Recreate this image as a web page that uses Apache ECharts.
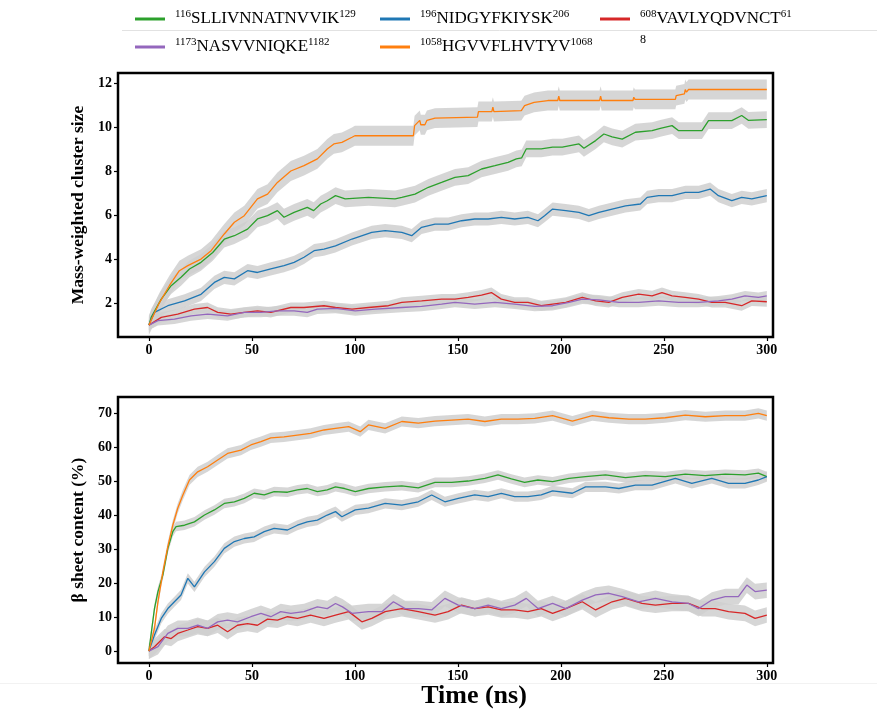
<!DOCTYPE html>
<html><head><meta charset="utf-8">
<script src="https://cdn.jsdelivr.net/npm/echarts@6/dist/echarts.min.js"></script>
<style>html,body{margin:0;padding:0;background:#fff}#c{width:877px;height:711px}</style>
</head><body><div id="c"></div><script>
// ---------- labels ----------
const seriesNames = ['116SLLIVNNATNVVIK129','196NIDGYFKIYSK206','608VAVLYQDVNCT618','1173NASVVNIQKE1182','1058HGVVFLHVTYV1068'];
const supPre = ['116','196','608','1173','1058'];
const mainTxt = ['SLLIVNNATNVVIK','NIDGYFKIYSK','VAVLYQDVNCT','NASVVNIQKE','HGVVFLHVTYV'];
const supPost = ['129','206','61','1182','1068'];
const colors = ['#2ca02c','#1f77b4','#d62728','#9467bd','#ff7f0e'];
const xTicks = [0,50,100,150,200,250,300];
const topYTicks = [2,4,6,8,10,12];
const botYTicks = [0,10,20,30,40,50,60,70];

// ---------- top: mass-weighted cluster size ----------
const topGreen = [[0,1.0],[1.1,1.35],[6,2.18],[10.8,2.79],[15.6,3.17],[19.7,3.55],[25.3,3.85],[31,4.3],[36.6,4.9],[41.5,5.06],[47.9,5.36],[52.7,5.82],[57.6,5.97],[62.4,6.2],[65.6,5.9],[70.5,6.12],[76.9,6.35],[80,6.2],[83.4,6.5],[86.6,6.65],[90.6,6.88],[95.3,6.73],[106.6,6.8],[119.5,6.73],[122.8,6.8],[129.2,6.95],[135.7,7.26],[142.1,7.48],[148.6,7.71],[155,7.79],[161.5,8.09],[168,8.24],[174.4,8.39],[178.4,8.55],[181,8.6],[183.2,9.0],[190.5,9.0],[196,9.08],[200.7,9.08],[208.8,9.23],[211.2,9.03],[216.9,9.38],[220.9,9.68],[224.9,9.55],[229.8,9.45],[236.2,9.76],[244.3,9.83],[248.3,9.94],[254,10.06],[257.2,9.83],[268.5,9.83],[271.7,10.29],[283,10.29],[287.8,10.52],[291,10.3],[300,10.33]];
const topBlue = [[0,1.0],[2.7,1.58],[9.2,1.88],[17.3,2.1],[25.3,2.4],[31.8,2.94],[36.6,3.17],[41.5,3.1],[47.9,3.47],[52.7,3.39],[59.2,3.55],[65.6,3.7],[70.5,3.85],[75.3,4.08],[80.2,4.38],[85,4.45],[90.6,4.6],[98.6,4.91],[108.2,5.21],[114.7,5.29],[122.8,5.21],[127.6,5.06],[132.4,5.44],[138.9,5.59],[145.3,5.59],[151.8,5.74],[158.2,5.82],[164.7,5.82],[171.1,5.89],[177.6,5.82],[184,5.89],[188.9,5.74],[192.1,5.97],[196,6.27],[202.4,6.2],[208.8,6.12],[213.6,5.97],[218.5,6.12],[224.9,6.27],[231.4,6.42],[238.6,6.5],[241.9,6.8],[247.5,6.88],[254,6.88],[260.4,7.03],[266.9,7.03],[272.5,7.18],[276.5,6.88],[283,6.65],[287.8,6.8],[292.7,6.73],[300,6.88]];
const topRed = [[0,1.0],[6,1.35],[14,1.5],[22.1,1.73],[28.5,1.8],[33.4,1.58],[39.8,1.5],[46.3,1.58],[52.7,1.65],[59.2,1.58],[68.9,1.8],[75.3,1.8],[85,1.88],[90.6,1.8],[98.6,1.73],[106.6,1.8],[116.3,1.88],[122.8,2.03],[132.4,2.1],[142.1,2.18],[148.6,2.18],[155,2.26],[161.5,2.36],[166.3,2.48],[171.1,2.18],[177.6,2.03],[184,2.03],[190.5,1.88],[196,1.95],[202.4,2.03],[210.4,2.26],[216.9,2.1],[223.3,2.03],[229.8,2.26],[237.8,2.41],[244.3,2.33],[249.1,2.48],[254,2.33],[260.4,2.26],[266.9,2.18],[273.3,2.03],[279.8,2.03],[287.8,1.88],[292.7,2.1],[300,2.06]];
const topPurple = [[0,1.0],[4.4,1.2],[12.4,1.27],[20.5,1.42],[28.5,1.5],[38.2,1.42],[46.3,1.58],[54.4,1.58],[62.4,1.65],[70.5,1.65],[76.9,1.58],[81.8,1.73],[90.6,1.76],[100.2,1.65],[109.9,1.73],[122.8,1.8],[132.4,1.85],[142.1,1.95],[148.6,2.03],[158.2,1.95],[168,2.03],[177.6,1.95],[187.3,1.85],[196,1.88],[204,2.03],[210.4,2.18],[218.5,2.15],[228.2,2.03],[237.8,2.03],[247.5,2.1],[257.2,2.03],[266.9,2.03],[276.5,2.1],[283,2.18],[289.4,2.33],[295.9,2.26],[300,2.33]];
const topOrange = [[0,1.0],[5,2.0],[10,2.8],[14.8,3.47],[18.9,3.7],[25.3,4.0],[30.2,4.38],[36.6,5.14],[41.5,5.67],[46.3,5.97],[52.7,6.73],[57.6,6.95],[62.4,7.48],[68.9,8.0],[75.3,8.24],[81.8,8.55],[86.6,9.0],[89.8,9.23],[93.7,9.3],[98.6,9.53],[100,9.6],[128.4,9.6],[129,10.06],[131.5,10.3],[132,10.1],[134,10.1],[135,10.3],[138.9,10.4],[159.5,10.45],[160,10.7],[166.5,10.7],[167,10.9],[167.5,10.7],[180.8,10.74],[182.4,10.97],[187,11.12],[193.7,11.2],[198.5,11.2],[199,11.4],[199.5,11.2],[218.8,11.2],[219.3,11.4],[219.8,11.2],[235,11.2],[235.4,11.35],[236,11.25],[255.6,11.25],[256,11.42],[260,11.5],[260.4,11.7],[261,11.58],[262,11.7],[300,11.7]];
const topErr = [0.38, 0.3, 0.23, 0.22, 0.45];

// ---------- bottom: beta sheet content ----------
const botGreen = [[0,0],[2.7,12.5],[4.4,17.5],[6.8,22.4],[9.2,30.2],[11.6,35.1],[13.2,36.6],[17.3,37],[22.1,38],[27,40],[31.8,41.5],[36.6,43.4],[41.5,43.9],[46.3,44.9],[51.1,46.4],[56,45.9],[60.8,46.9],[67.3,46.7],[72.1,47.4],[76.9,47.8],[81.8,46.9],[86.6,47.4],[90.6,48.3],[95,47.8],[100.2,46.9],[106.6,47.8],[114.7,48.3],[122.8,48.6],[130.8,48],[138.9,49.6],[147,49.6],[155,50],[163.1,50.8],[169.5,51.8],[176,50.6],[182.4,49.6],[188.9,50.3],[196,49.8],[204,50.8],[212,51.3],[221.7,51.8],[231.4,51],[241,51.6],[250.7,51.3],[260.4,52],[270.1,51.6],[279.8,52],[289.4,51.8],[295.9,52.3],[300,51.3]];
const botBlue = [[0,0],[2.7,4.7],[6,9.6],[9.2,12.5],[12.4,14.5],[15.6,16.5],[18.9,21.4],[22.1,18.9],[27,23.3],[31.8,26.3],[36.6,30.2],[41.5,32.2],[46.3,33.1],[51.1,33.6],[56,35.1],[60.8,36.1],[67.3,35.6],[72.1,37],[76.9,38],[81.8,38.5],[86.6,40],[90.6,41],[93.7,39.5],[100.2,41.5],[106.6,42],[114.7,43.4],[122.8,42.9],[130.8,43.9],[137.3,45.9],[143.7,43.9],[150.2,44.9],[158.2,45.9],[164.7,45.4],[171.1,46.4],[177.6,45.4],[184,45.4],[190.5,45.9],[196,47.1],[205.6,46.4],[212,48.3],[221.7,48.3],[228.2,47.8],[236.2,48.8],[244.3,48.8],[255.6,50.8],[263.6,49.3],[273.3,50.8],[281.4,49.3],[289.4,49.3],[295.9,50.3],[300,51.3]];
const botRed = [[0,0],[2.7,1.3],[7.6,4.2],[10.8,3.7],[14,5.2],[18.9,6.2],[23.7,7.2],[28.5,6.7],[33.4,7.6],[38.2,5.7],[43,7.6],[47.9,8.1],[52.7,7.6],[57.6,9.4],[62.4,9.1],[67.3,10.1],[72.1,9.6],[78.5,10.6],[85,9.6],[90.6,10.6],[97,11.6],[103.4,8.6],[108.2,9.6],[114.7,11.6],[122.8,12.5],[130.8,11.6],[138.9,10.6],[145.3,11.6],[151.8,13.5],[158.2,12.5],[164.7,13],[171.1,12.1],[177.6,12.1],[184,11.6],[190.5,12.5],[196,11.1],[202.4,12.5],[210.4,14.5],[216.9,12.1],[224.9,14.5],[231.4,15.5],[239.4,14],[245.9,13.5],[254,14],[262,14],[268.5,12.5],[274.9,12.5],[281.4,11.6],[289.4,11.1],[294.3,9.6],[300,10.6]];
const botPurple = [[0,0],[4.4,1.3],[9.2,5.2],[14,6.7],[18.9,6.7],[23.7,7.6],[28.5,6.7],[33.4,8.6],[38.2,9.1],[43,8.6],[49.5,10.1],[54.4,11.1],[59.2,10.1],[64,11.6],[68.9,11.1],[75.3,11.6],[81.8,13],[86.6,12.5],[90.6,14],[94,13],[98.6,11.1],[106.6,11.6],[113.1,11.6],[118.7,14.5],[124.4,12.5],[130.8,12.5],[137.3,12.1],[143.7,15.5],[150.2,13.5],[158.2,12.5],[164.7,13.5],[171.1,12.5],[177.6,13.5],[183.2,15.5],[188.9,12.5],[196,14],[202.4,12.5],[210.4,15],[216.9,16.5],[223.3,17],[229.8,16],[237.8,14.5],[245.9,15.5],[254,14.5],[262,14],[266.9,12.5],[273.3,15],[279.8,16],[286.2,16],[290.3,19.4],[294.3,17.5],[300,17.9]];
const botOrange = [[0,0],[2.7,6.7],[4.4,14.5],[6.8,23.3],[9.2,30.7],[11.6,37],[14,42],[16.5,45.9],[19.7,50.3],[23.7,52.7],[28.5,54.2],[33.4,56.2],[38.2,58.1],[44.7,59.1],[49.5,60.6],[54.4,61.6],[59.2,62.7],[65.6,63],[72.1,63.5],[78.5,64],[85,65],[90.6,65.5],[97,66],[102.6,64.5],[106.6,66.5],[114.7,65.5],[122.8,67.5],[130.8,67],[138.9,67.6],[147,67.9],[155,68.2],[163.1,67.5],[171.1,68.2],[179.2,68.2],[187.3,68.4],[196,69.2],[205.6,67.6],[215.3,69.2],[223.3,68.6],[233,68.2],[241,68.2],[250.7,68.6],[260.4,69.4],[270.1,68.9],[279.8,69.2],[289.4,69.2],[295.9,69.9],[300,69.2]];
const botErr = [1.4, 1.5, 2.3, 2.3, 1.5];

const topData = [topGreen, topBlue, topRed, topPurple, topOrange];
const botData = [botGreen, botBlue, botRed, botPurple, botOrange];

const SERIF = 'Liberation Serif';
const chart = echarts.init(document.getElementById('c'), null, {renderer:'canvas'});

function band(data, err, gi) {
  return {
    type: 'custom', xAxisIndex: gi, yAxisIndex: gi, data: [[0, 0]], silent: true, z: 1, clip: true,
    renderItem: function (params, api) {
      const pts = [];
      for (let i = 0; i < data.length; i++) pts.push(api.coord([data[i][0], data[i][1] + err]));
      for (let i = data.length - 1; i >= 0; i--) pts.push(api.coord([data[i][0], data[i][1] - err]));
      return { type: 'polygon', shape: { points: pts }, style: { fill: '#cfcfcf', opacity: 0.85 } };
    }
  };
}
function line(data, i, gi) {
  return { type: 'line', name: seriesNames[i], xAxisIndex: gi, yAxisIndex: gi, data: data,
    showSymbol: false, symbol: 'none', z: 3, lineStyle: { color: colors[i], width: 1.3 },
    itemStyle: { color: colors[i] }, silent: true };
}
function xAx(gi) {
  return { type: 'value', gridIndex: gi, min: -15, max: 303,
    axisLine: { show: false, onZero: false }, splitLine: { show: false },
    axisTick: { show: true, length: 4, lineStyle: { color: '#000', width: 1.2 }, customValues: xTicks },
    axisLabel: { customValues: xTicks, color: '#000', fontFamily: SERIF, fontWeight: 'bold', fontSize: 14, margin: 6 } };
}
function yAx(gi, min, max, ticks, name) {
  return { type: 'value', gridIndex: gi, min: min, max: max,
    name: name, nameLocation: 'middle', nameGap: 26,
    nameTextStyle: { color: '#000', fontFamily: SERIF, fontWeight: 'bold', fontSize: 17.5 },
    axisLine: { show: false, onZero: false }, splitLine: { show: false },
    axisTick: { show: true, length: 4, lineStyle: { color: '#000', width: 1.2 }, customValues: ticks },
    axisLabel: { customValues: ticks, color: '#000', fontFamily: SERIF, fontWeight: 'bold', fontSize: 14, margin: 6 } };
}

const legendPos = [[135, 9], [380, 9], [600, 9], [135, 37], [380, 37]];
const legends = seriesNames.map((n, i) => ({
  data: [n], left: legendPos[i][0], top: legendPos[i][1], icon: 'rect', itemWidth: 30, itemHeight: 3,
  selectedMode: false, padding: 0,
  formatter: () => '{s|' + supPre[i] + '}{m|' + mainTxt[i] + '}{s|' + supPost[i] + '}',
  textStyle: { color: '#000', fontFamily: SERIF, padding: [0, 0, 0, 5],
    rich: { s: { fontSize: 11, fontFamily: SERIF, color: '#000', verticalAlign: 'top', lineHeight: 20 },
            m: { fontSize: 17, fontFamily: SERIF, color: '#000', lineHeight: 20 } } }
}));

const series = [];
topData.forEach((d, i) => series.push(band(d, topErr[i], 0)));
botData.forEach((d, i) => series.push(band(d, botErr[i], 1)));
topData.forEach((d, i) => series.push(line(d, i, 0)));
botData.forEach((d, i) => series.push(line(d, i, 1)));

chart.setOption({
  animation: false,
  backgroundColor: '#fff',
  legend: legends,
  grid: [
    { left: 118, right: 104, top: 73, height: 264, show: true, borderColor: '#000', borderWidth: 2.5, backgroundColor: 'transparent' },
    { left: 118, right: 104, top: 397, height: 266, show: true, borderColor: '#000', borderWidth: 2.5, backgroundColor: 'transparent' }
  ],
  xAxis: [xAx(0), xAx(1)],
  yAxis: [yAx(0, 0.46, 12.45, topYTicks, 'Mass-weighted cluster size'), yAx(1, -3.5, 74.7, botYTicks, 'β sheet content (%)')],
  graphic: [
    { type: 'line', shape: { x1: 122, y1: 30.5, x2: 877, y2: 30.5 }, style: { stroke: '#e2e2e2', lineWidth: 1 }, silent: true },
    { type: 'line', shape: { x1: 0, y1: 683.5, x2: 877, y2: 683.5 }, style: { stroke: '#f2f2f2', lineWidth: 1 }, silent: true },
    { type: 'text', left: 640, top: 34, style: { text: '8', font: '12px "Liberation Serif"', fill: '#000' }, silent: true },
    { type: 'text', x: 474, y: 696, style: { text: 'Time (ns)', font: 'bold 26px "Liberation Serif"', fill: '#000', align: 'center', verticalAlign: 'middle' }, silent: true }
  ],
  series: series
});
</script></body></html>
